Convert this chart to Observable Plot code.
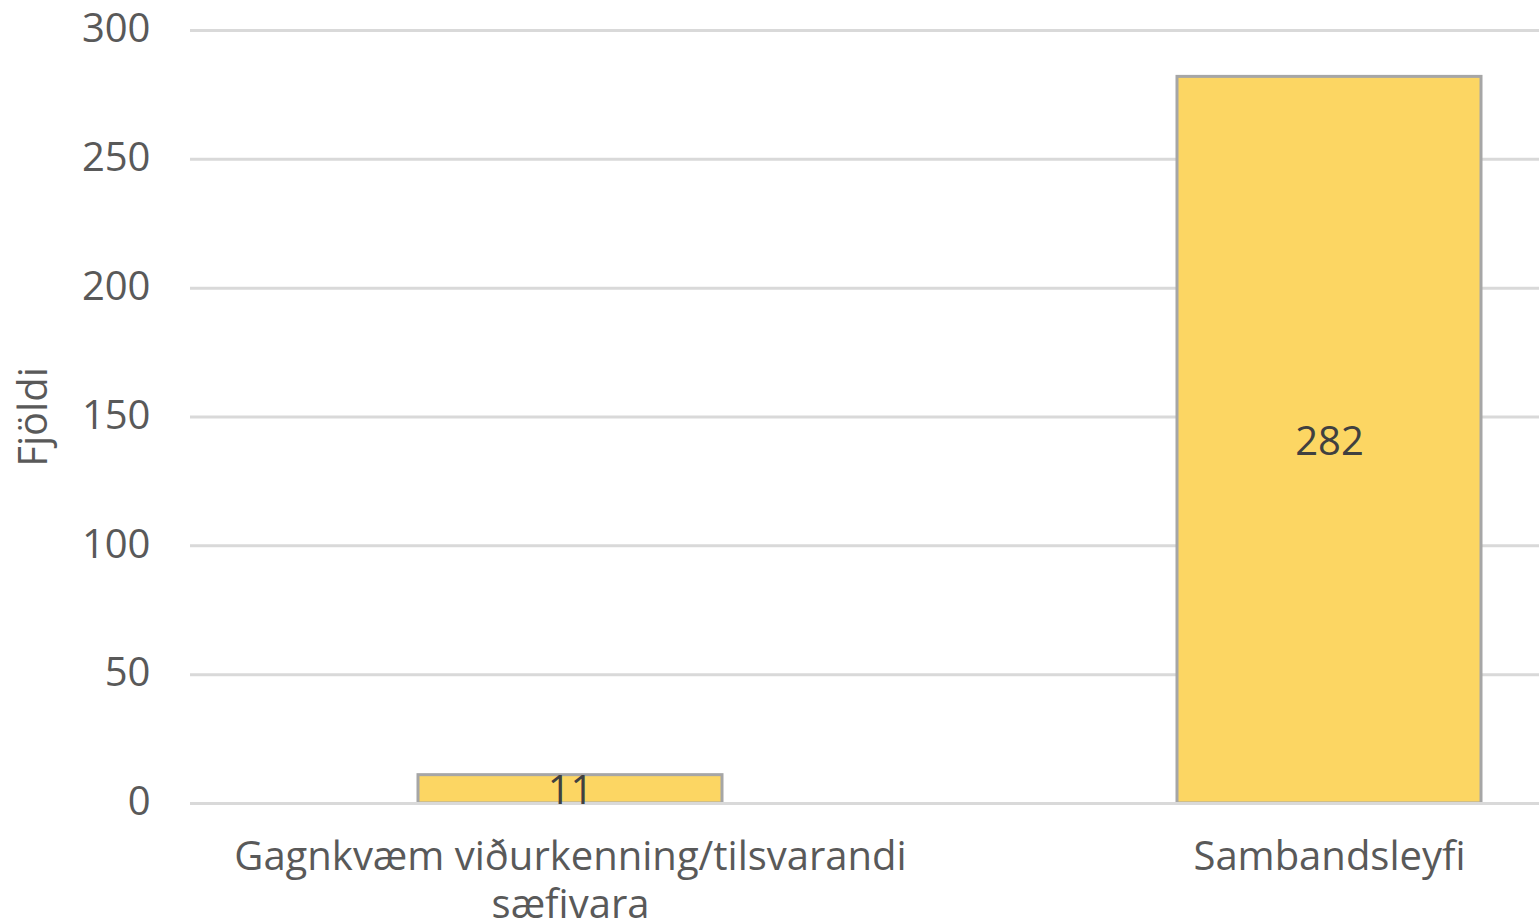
<!DOCTYPE html>
<html>
<head>
<meta charset="utf-8">
<script src="https://cdn.jsdelivr.net/npm/d3@7"></script>
<script src="https://cdn.jsdelivr.net/npm/@observablehq/plot@0.6"></script>
<style>
  html, body { margin: 0; padding: 0; background: #fff; overflow: hidden; }
  #chart svg { overflow: hidden; }
</style>
</head>
<body>
<div id="chart"></div>
<script>
const categories = ["Gagnkvæm viðurkenning/tilsvarandi\nsæfivara", "Sambandsleyfi"];
const values = [11, 282];
const yTicks = [0, 50, 100, 150, 200, 250, 300];
const yLabel = "Fjöldi";

const data = categories.map((c, i) => ({category: c, value: values[i]}));

const chart = Plot.plot({
  width: 1539,
  height: 921,
  marginTop: 30,
  marginBottom: 118,
  marginLeft: 190,
  marginRight: 0,
  style: {fontFamily: "'Open Sans', sans-serif", background: "#fff"},
  x: {domain: categories, range: [190, 1708], paddingInner: 0.6, paddingOuter: 0.3},
  y: {domain: [0, 300]},
  marks: [
    Plot.ruleY(yTicks, {stroke: "#D9D9D9", strokeWidth: 3}),
    Plot.barY(data, {x: "category", y: "value", fill: "#FCD663", stroke: "#A6A6A6", strokeWidth: 3}),
    Plot.ruleY([0], {stroke: "#D9D9D9", strokeWidth: 3}),
    Plot.text(data, {x: "category", y: d => d.value / 2, text: d => String(d.value), fill: "#404040", fontSize: 40, dy: 2}),
    Plot.axisY({ticks: yTicks, tickSize: 0, tickPadding: 40, fontSize: 40, color: "#595959",
      label: yLabel, labelAnchor: "center", labelArrow: "none", labelOffset: 172, dy: -1}),
    Plot.axisX({tickSize: 0, tickPadding: 32, fontSize: 40, color: "#595959", lineHeight: 1.2, label: null})
  ]
});
document.getElementById("chart").appendChild(chart);
</script>
</body>
</html>
